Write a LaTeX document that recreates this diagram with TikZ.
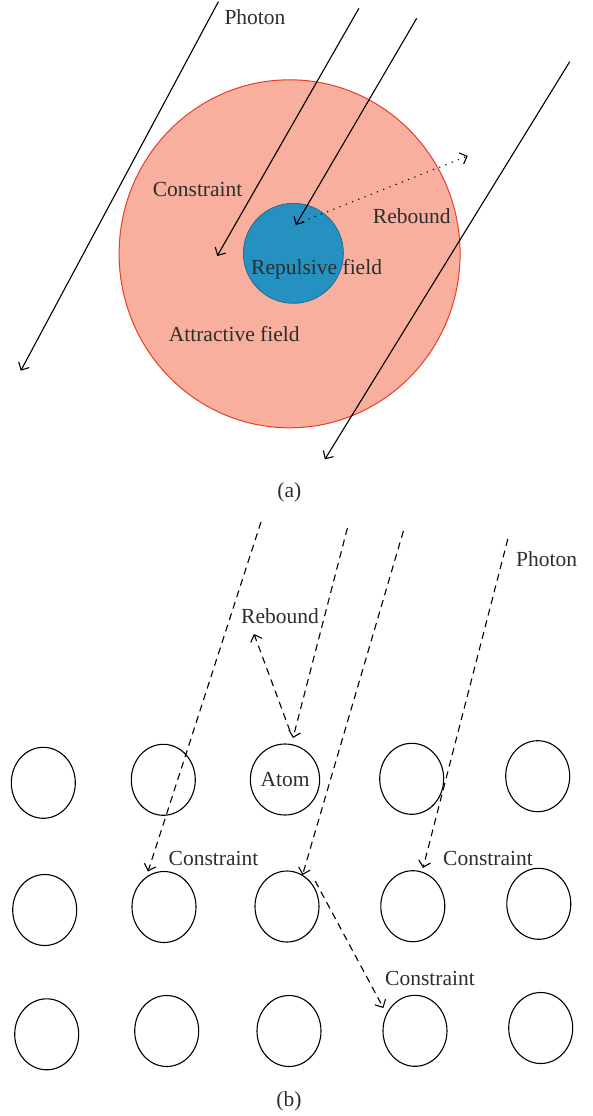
\documentclass[tikz,border=0pt]{standalone}
\usepackage{fontspec}
\setmainfont{Liberation Serif}
\usetikzlibrary{arrows.meta,shapes.geometric}
\definecolor{salmon}{RGB}{248,175,157}
\definecolor{redline}{RGB}{235,60,40}
\definecolor{bluefill}{RGB}{36,145,193}
\definecolor{blueline}{RGB}{30,110,150}
\definecolor{txt}{RGB}{45,45,45}
\begin{document}
\begin{tikzpicture}[x=1pt,y=-1pt,
  lbl/.style={text=txt,font=\fontsize{21.5}{24}\selectfont,inner sep=0pt},
  photon/.style={line width=1.1pt,-{Straight Barb[length=6pt,width=12pt]}},
  dphoton/.style={photon,dash pattern=on 7pt off 5pt},
  rebounddot/.style={photon,dash pattern=on 1.2pt off 5.5pt},
  atom/.style={ellipse,draw,line width=1.1pt,minimum width=64pt,minimum height=71pt,inner sep=0pt}]
\useasboundingbox (0,0) rectangle (592,1116);
% ---------------- part (a)
\node[ellipse,fill=salmon,draw=redline,line width=1pt,minimum width=341pt,minimum height=348pt,inner sep=0pt] (attr) at (289.6,253.8) {};
\node[circle,fill=bluefill,draw=blueline,line width=0.8pt,minimum size=100pt,inner sep=0pt] (rep) at (293.4,253.3) {};
\coordinate (p1s) at (218.4,1.7);   \coordinate (p1e) at (20.8,370.7);
\coordinate (p2s) at (358.9,8.3);   \coordinate (p2e) at (217.2,256);
\coordinate (p3s) at (416.7,18.3);  \coordinate (p3e) at (295.8,225);
\coordinate (p4s) at (569.7,61.7);  \coordinate (p4e) at (324.9,459.3);
\coordinate (rbs) at (302.2,221.7); \coordinate (rbe) at (467.7,156);
\draw[photon] (p1s) -- (p1e);
\draw[photon] (p2s) -- (p2e);
\draw[photon] (p3s) -- (p3e);
\draw[photon] (p4s) -- (p4e);
\draw[rebounddot] (rbs) -- (rbe);
\node[lbl] (la1) at (255,17.3) {Photon};
\node[lbl] (la2) at (197.6,189.3) {Constraint};
\node[lbl] (la3) at (411.8,216) {Rebound};
\node[lbl] (la4) at (316.6,269.3) {Repulsive field};
\node[lbl] (la5) at (234.2,334.3) {Attractive field};
\node[lbl] (capa) at (289.3,492.3) {(a)};
% ---------------- part (b)
\node[atom] (c11) at (43.3,782.8) {};
\node[atom] (c12) at (163.3,779.8) {};
\node[atom,lbl,inner sep=0pt] (c13) at (285,779.5) {Atom};
\node[atom] (c14) at (411.7,778.8) {};
\node[atom] (c15) at (537.7,776.2) {};
\node[atom] (c21) at (44.7,910) {};
\node[atom] (c22) at (164,907) {};
\node[atom] (c23) at (287,906.5) {};
\node[atom] (c24) at (412.8,906.2) {};
\node[atom] (c25) at (538.8,903.8) {};
\node[atom] (c31) at (46.7,1034.3) {};
\node[atom] (c32) at (166.7,1031) {};
\node[atom] (c33) at (289,1031) {};
\node[atom] (c34) at (415,1030.8) {};
\node[atom] (c35) at (540.7,1028) {};
\coordinate (d1s) at (261,522);     \coordinate (d1e) at (148,871.5);
\coordinate (d2s) at (347.4,528);   \coordinate (d2e) at (293,738);
\coordinate (d3s) at (403.4,531);   \coordinate (d3e) at (302.5,875);
\coordinate (d4s) at (507.8,539);   \coordinate (d4e) at (423,868);
\coordinate (rrs) at (290,731);     \coordinate (rre) at (254,634);
\coordinate (d5s) at (315.2,881);   \coordinate (d5e) at (383.4,1008);
\draw[dphoton] (d1s) -- (d1e);
\draw[dphoton] (d2s) -- (d2e);
\draw[dphoton] (d3s) -- (d3e);
\draw[dphoton] (d4s) -- (d4e);
\draw[dphoton] (rrs) -- (rre);
\draw[dphoton] (d5s) -- (d5e);
\node[lbl] (lb1) at (546.7,559) {Photon};
\node[lbl] (lb2) at (280,616.5) {Rebound};
\node[lbl] (lb3) at (213.5,858.3) {Constraint};
\node[lbl] (lb4) at (488,858.3) {Constraint};
\node[lbl] (lb5) at (430,978.5) {Constraint};
\node[lbl] (capb) at (289,1101) {(b)};
\end{tikzpicture}
\end{document}
